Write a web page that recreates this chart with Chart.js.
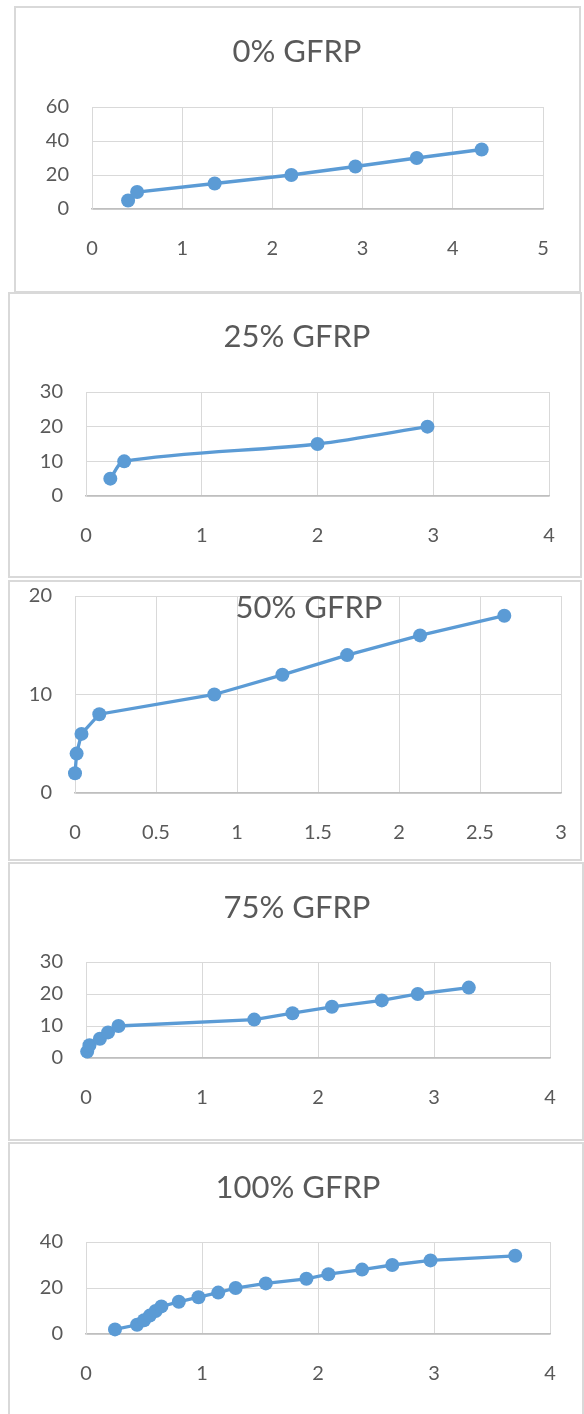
<!DOCTYPE html>
<html lang="en">
<head>
<meta charset="UTF-8">
<title>GFRP curves</title>
<script src="https://cdn.jsdelivr.net/npm/chart.js"></script>
<style>
  html, body { margin: 0; padding: 0; background: #fff; }
  body { position: relative; width: 584px; height: 1414px; overflow: hidden; }
  .frame { position: absolute; box-sizing: border-box; border: 2px solid #d9d9d9; background: #fff; }
  .plot { position: absolute; }
</style>
</head>
<body>
<script>
// chart titles
const titles = ['0% GFRP', '25% GFRP', '50% GFRP', '75% GFRP', '100% GFRP'];

// 0% GFRP
const x0 = [0.40, 0.50, 1.36, 2.21, 2.92, 3.60, 4.32];
const y0 = [5, 10, 15, 20, 25, 30, 35];
// 25% GFRP
const x25 = [0.21, 0.33, 2.00, 2.95];
const y25 = [5, 10, 15, 20];
// 50% GFRP
const x50 = [0.00, 0.01, 0.04, 0.15, 0.86, 1.28, 1.68, 2.13, 2.65];
const y50 = [2, 4, 6, 8, 10, 12, 14, 16, 18];
// 75% GFRP
const x75 = [0.01, 0.03, 0.12, 0.19, 0.28, 1.45, 1.78, 2.12, 2.55, 2.86, 3.30];
const y75 = [2, 4, 6, 8, 10, 12, 14, 16, 18, 20, 22];
// 100% GFRP
const x100 = [0.25, 0.44, 0.50, 0.55, 0.60, 0.65, 0.80, 0.97, 1.14, 1.29, 1.55, 1.90, 2.09, 2.38, 2.64, 2.97, 3.70];
const y100 = [2, 4, 6, 8, 10, 12, 14, 16, 18, 20, 22, 24, 26, 28, 30, 32, 34];

// tick labels
const xTicks = [[0, 1, 2, 3, 4, 5], [0, 1, 2, 3, 4], [0, 0.5, 1, 1.5, 2, 2.5, 3], [0, 1, 2, 3, 4], [0, 1, 2, 3, 4]];
const yTicks = [[0, 20, 40, 60], [0, 10, 20, 30], [0, 10, 20], [0, 10, 20, 30], [0, 20, 40]];

const xs = [x0, x25, x50, x75, x100];
const ys = [y0, y25, y50, y75, y100];

// page layout of each panel: box [left, top, width, height], plot [left, top, right, bottom]
const frames = [
  { box: [14, 6, 567, 287], plot: [92, 107, 543, 209], tx: 297, ty: 52, tension: 0 },
  { box: [8, 292, 574, 286], plot: [86, 392, 549, 496], tx: 297, ty: 337, tension: 0.3 },
  { box: [8, 580, 574, 281], plot: [75, 596, 561, 793], tx: 309, ty: 608, tension: 0 },
  { box: [8, 862, 576, 279], plot: [86, 962, 550, 1058], tx: 297, ty: 908, tension: 0 },
  { box: [8, 1142, 576, 274], plot: [86, 1242, 550, 1334], tx: 298, ty: 1188, tension: 0 }
];

Chart.defaults.font.family = 'Lato, "Open Sans", sans-serif';
Chart.defaults.color = '#595959';

const titlePlugin = {
  id: 'panelTitle',
  afterDraw(chart, args, opts) {
    const ctx = chart.ctx;
    ctx.save();
    ctx.font = '31px Lato, "Open Sans", sans-serif';
    ctx.fillStyle = '#595959';
    ctx.textAlign = 'center';
    ctx.textBaseline = 'middle';
    ctx.fillText(opts.text, opts.x, opts.y);
    ctx.restore();
  }
};

titles.forEach((title, i) => {
  const f = frames[i];
  const [bl, bt, bw, bh] = f.box;
  const [pl, pt, pr, pb] = f.plot;

  const border = document.createElement('div');
  border.className = 'frame';
  Object.assign(border.style, { left: bl + 'px', top: bt + 'px', width: bw + 'px', height: bh + 'px' });
  document.body.appendChild(border);

  const wrap = document.createElement('div');
  wrap.className = 'plot';
  Object.assign(wrap.style, { left: bl + 'px', top: bt + 'px', width: bw + 'px', height: bh + 'px' });
  const canvas = document.createElement('canvas');
  wrap.appendChild(canvas);
  document.body.appendChild(wrap);

  const points = xs[i].map((x, k) => ({ x: x, y: ys[i][k] }));
  const xt = xTicks[i];
  const yt = yTicks[i];

  new Chart(canvas, {
    type: 'scatter',
    data: {
      datasets: [{
        data: points,
        showLine: true,
        borderColor: '#5b9bd5',
        backgroundColor: '#5b9bd5',
        borderWidth: 3.3,
        pointRadius: 7,
        pointBorderWidth: 0,
        tension: f.tension,
        clip: false
      }]
    },
    options: {
      responsive: true,
      maintainAspectRatio: false,
      animation: false,
      events: [],
      layout: { padding: { top: pt - bt, right: bl + bw - pr, left: 0, bottom: 0 } },
      plugins: {
        legend: { display: false },
        tooltip: { enabled: false },
        panelTitle: { text: title, x: f.tx - bl, y: f.ty - bt }
      },
      scales: {
        x: {
          type: 'linear',
          min: xt[0],
          max: xt[xt.length - 1],
          afterBuildTicks: s => { s.ticks = xt.map(v => ({ value: v })); },
          afterFit: s => { s.height = bt + bh - pb; s.paddingLeft = 0; s.paddingRight = 0; },
          grid: { color: '#d9d9d9', lineWidth: 1, drawTicks: false },
          border: { color: '#bfbfbf', width: 1.5 },
          ticks: { padding: 28, font: { size: 20 }, color: '#595959', callback: v => String(v) }
        },
        y: {
          type: 'linear',
          min: yt[0],
          max: yt[yt.length - 1],
          afterBuildTicks: s => { s.ticks = yt.map(v => ({ value: v })); },
          afterFit: s => { s.width = pl - bl; s.paddingTop = 0; s.paddingBottom = 0; },
          grid: { color: '#d9d9d9', lineWidth: 1, drawTicks: false },
          border: { color: '#d9d9d9', width: 1 },
          ticks: { padding: 23, font: { size: 20 }, color: '#595959', callback: v => String(v) }
        }
      }
    },
    plugins: [titlePlugin]
  });
});
</script>
</body>
</html>
